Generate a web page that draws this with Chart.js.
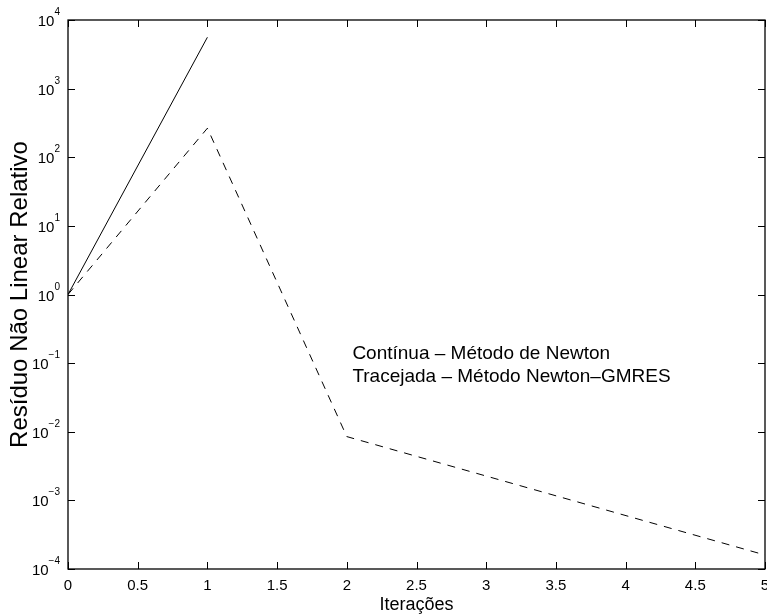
<!DOCTYPE html>
<html>
<head>
<meta charset="utf-8">
<script src="https://cdn.jsdelivr.net/npm/chart.js@4/dist/chart.umd.min.js"></script>
<style>
  html, body { margin: 0; padding: 0; background: #fff; }
  canvas { display: block; }
</style>
</head>
<body>
<canvas id="residualChart" width="767" height="615"></canvas>
<script>
// Newton (solid) and Newton-GMRES (dashed) residual history
let newtonIter = [0, 1];
let newtonResidual = [1, 5600];
let gmresIter = [0, 1, 2, 5];
let gmresResidual = [1, 265, 0.0085, 0.00016];

let xTicks = [0, 0.5, 1, 1.5, 2, 2.5, 3, 3.5, 4, 4.5, 5];
let yExponents = [-4, -3, -2, -1, 0, 1, 2, 3, 4];

let noteLines = ["Contínua – Método de Newton", "Tracejada – Método Newton–GMRES"];
let xTitle = "Iterações";
let yTitle = "Resíduo Não Linear Relativo";

let FONT = '"Liberation Sans", Arial, Helvetica, sans-serif';

function toPoints(xs, ys) {
  let pts = [];
  for (let i = 0; i < xs.length; i++) {
    pts.push({ x: xs[i], y: ys[i] });
  }
  return pts;
}

// Draws the boxed axes with inward ticks, labels and the note text
let matlabAxes = {
  id: "matlabAxes",
  afterDraw(chart) {
    let ctx = chart.ctx;
    let area = chart.chartArea;
    let xs = chart.scales.x;
    let ys = chart.scales.y;
    let tick = 7;

    ctx.save();
    ctx.strokeStyle = "#000";
    ctx.fillStyle = "#000";
    ctx.lineWidth = 1.3;
    ctx.strokeRect(area.left, area.top, area.right - area.left, area.bottom - area.top);

    ctx.lineWidth = 1;
    ctx.beginPath();
    for (let v of xTicks) {
      let px = Math.round(xs.getPixelForValue(v)) + 0.5;
      ctx.moveTo(px, area.bottom);
      ctx.lineTo(px, area.bottom - tick);
      ctx.moveTo(px, area.top);
      ctx.lineTo(px, area.top + tick);
    }
    for (let e of yExponents) {
      let py = Math.round(ys.getPixelForValue(Math.pow(10, e))) + 0.5;
      ctx.moveTo(area.left, py);
      ctx.lineTo(area.left + tick, py);
      ctx.moveTo(area.right, py);
      ctx.lineTo(area.right - tick, py);
    }
    ctx.stroke();

    // x tick labels
    ctx.font = "15px " + FONT;
    ctx.textAlign = "center";
    ctx.textBaseline = "top";
    for (let v of xTicks) {
      ctx.fillText(String(v), xs.getPixelForValue(v), area.bottom + 9);
    }

    // y tick labels as 10 with a raised exponent
    for (let e of yExponents) {
      let py = ys.getPixelForValue(Math.pow(10, e));
      let expText = e < 0 ? "\u2212" + Math.abs(e) : String(e);
      ctx.font = "10px " + FONT;
      let expW = ctx.measureText(expText).width;
      ctx.textAlign = "left";
      ctx.textBaseline = "alphabetic";
      let expX = area.left - 8 - expW;
      ctx.fillText(expText, expX, py - 5);
      ctx.font = "15px " + FONT;
      ctx.textAlign = "right";
      ctx.fillText("10", expX, py + 6);
    }

    // axis titles
    ctx.font = "18px " + FONT;
    ctx.textAlign = "center";
    ctx.textBaseline = "alphabetic";
    ctx.fillText(xTitle, (area.left + area.right) / 2, 610);

    ctx.save();
    ctx.font = "24px " + FONT;
    ctx.translate(27, (area.top + area.bottom) / 2);
    ctx.rotate(-Math.PI / 2);
    ctx.fillText(yTitle, 0, 0);
    ctx.restore();

    // note text
    ctx.font = "19px " + FONT;
    ctx.textAlign = "left";
    let nx = xs.getPixelForValue(2.04);
    let ny = ys.getPixelForValue(Math.pow(10, -0.94));
    for (let i = 0; i < noteLines.length; i++) {
      ctx.fillText(noteLines[i], nx, ny + i * 23);
    }
    ctx.restore();
  }
};

let ctx = document.getElementById("residualChart").getContext("2d");
let residualChart = new Chart(ctx, {
  type: "line",
  data: {
    datasets: [
      {
        label: "Newton",
        data: toPoints(newtonIter, newtonResidual),
        borderColor: "#000",
        borderWidth: 1,
        pointRadius: 0,
        tension: 0
      },
      {
        label: "Newton-GMRES",
        data: toPoints(gmresIter, gmresResidual),
        borderColor: "#000",
        borderWidth: 1,
        borderDash: [8, 7],
        pointRadius: 0,
        tension: 0
      }
    ]
  },
  options: {
    responsive: false,
    devicePixelRatio: 1,
    animation: false,
    layout: {
      padding: { left: 68, top: 20, right: 2, bottom: 46 }
    },
    plugins: {
      legend: { display: false },
      tooltip: { enabled: false }
    },
    scales: {
      x: { type: "linear", min: 0, max: 5, display: false },
      y: { type: "logarithmic", min: 1e-4, max: 1e4, display: false }
    }
  },
  plugins: [matlabAxes]
});
</script>
</body>
</html>
